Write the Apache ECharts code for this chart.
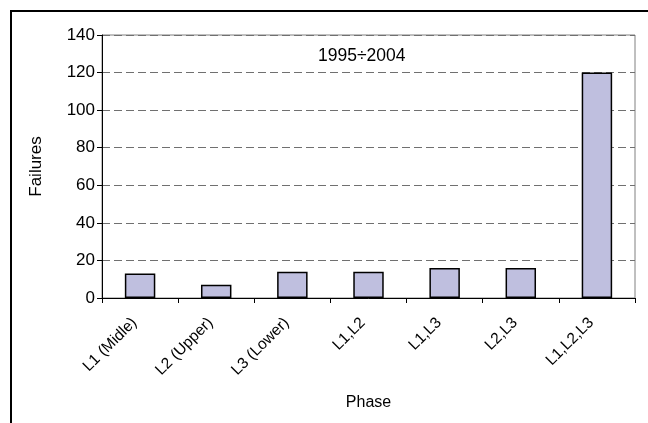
<!DOCTYPE html>
<html>
<head>
<meta charset="utf-8">
<script src="https://cdn.jsdelivr.net/npm/echarts@6/dist/echarts.min.js"></script>
<style>
html,body{margin:0;padding:0;background:#fff;}
#c{width:648px;height:423px;}
</style>
</head>
<body>
<div id="c"></div>
<script>
const categories = ['L1 (Midle)', 'L2 (Upper)', 'L3 (Lower)', 'L1,L2', 'L1,L3', 'L2,L3', 'L1,L2,L3'];
const failures = [13, 7, 14, 14, 16, 16, 120];
const yTicks = { min: 0, max: 140, interval: 20 };
const periodLabel = '1995÷2004';
const xTitle = 'Phase';
const yTitle = 'Failures';

const FONT = '"Liberation Sans", Arial, sans-serif';
const chart = echarts.init(document.getElementById('c'), null, { renderer: 'canvas' });
chart.setOption({
  animation: false,
  backgroundColor: '#ffffff',
  textStyle: { fontFamily: FONT },
  grid: { left: 102, right: 13, top: 35, bottom: 125, show: true, borderColor: '#808080', borderWidth: 1, backgroundColor: 'transparent' },
  graphic: [
    { type: 'rect', shape: { x: 11, y: 11, width: 700, height: 500 }, style: { fill: 'none', stroke: '#000', lineWidth: 2 }, silent: true, z: 100 },
    { type: 'text', left: 318, top: 47, style: { text: periodLabel, fill: '#000', font: '17.5px ' + FONT }, z: 100 }
  ],
  xAxis: {
    type: 'category',
    data: categories,
    name: xTitle,
    nameLocation: 'middle',
    nameGap: 97,
    nameTextStyle: { color: '#000', fontSize: 16, fontFamily: FONT },
    axisLine: { show: true, lineStyle: { color: '#000', width: 1 } },
    axisTick: { show: true, length: 5, lineStyle: { color: '#000' } },
    axisLabel: { rotate: 45, margin: 28, verticalAlign: 'bottom', color: '#000', fontSize: 15.5, fontFamily: FONT, interval: 0 },
    splitLine: { show: false }
  },
  yAxis: {
    type: 'value',
    min: yTicks.min,
    max: yTicks.max,
    interval: yTicks.interval,
    name: yTitle,
    nameLocation: 'middle',
    nameGap: 57,
    nameTextStyle: { color: '#000', fontSize: 17, fontFamily: FONT },
    axisLine: { show: true, lineStyle: { color: '#000', width: 1 } },
    axisTick: { show: true, length: 5, lineStyle: { color: '#000' } },
    axisLabel: { color: '#000', fontSize: 17, fontFamily: FONT, margin: 7 },
    splitLine: { show: true, lineStyle: { color: '#707070', type: [8, 4], width: 1 } }
  },
  series: [{
    type: 'bar',
    data: failures,
    barWidth: '40%',
    itemStyle: { color: '#BFBFDF', borderColor: '#000', borderWidth: 1.5 }
  }]
});
</script>
</body>
</html>
